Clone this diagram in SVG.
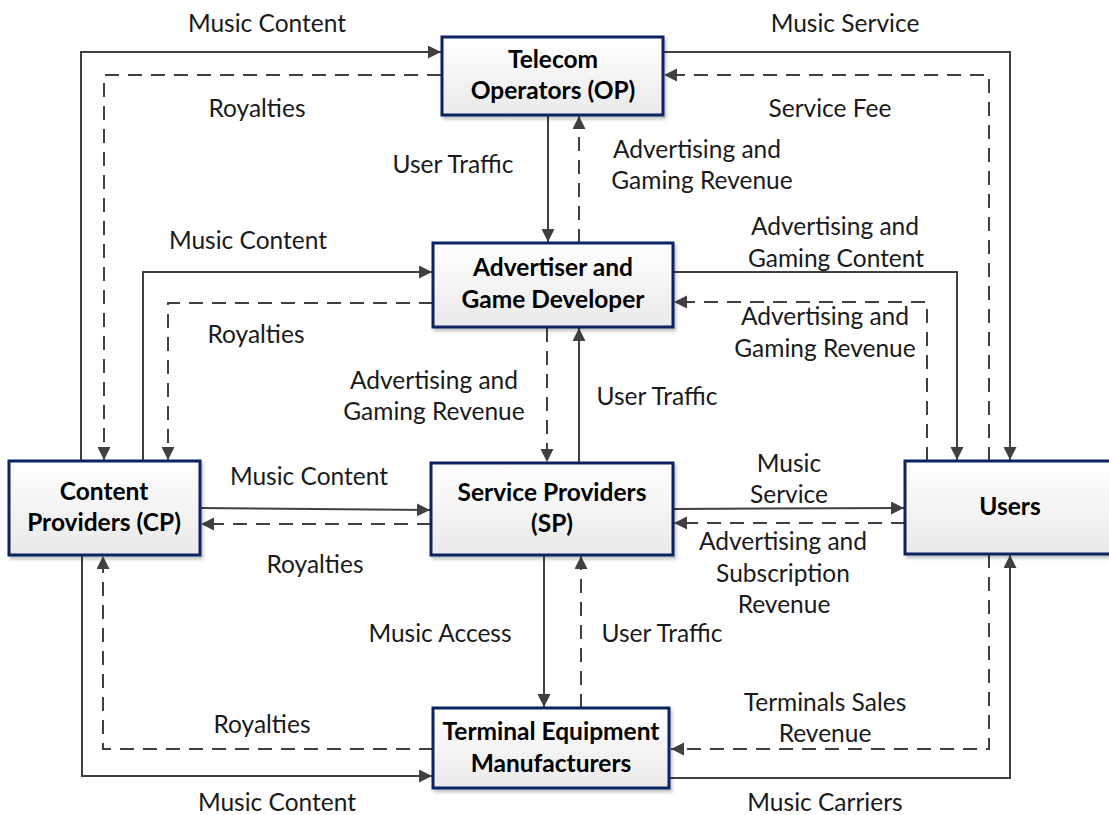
<svg xmlns="http://www.w3.org/2000/svg" width="1109" height="815" viewBox="0 0 1109 815">
<style>
.box{fill:url(#g);stroke:#0c2461;stroke-width:3;filter:url(#sh)}
.bt{font-family:Lato,"Liberation Sans",sans-serif;font-weight:bold;font-size:24.5px;fill:#000;text-anchor:middle}
.lb{font-family:Lato,"Liberation Sans",sans-serif;font-size:24.5px;fill:#1a1a1a;text-anchor:middle}
.c{fill:none;stroke:#404040;stroke-width:2;marker-end:url(#ah)}
.d{stroke-dasharray:14 9}
</style>
<defs>
<linearGradient id="g" x1="0" y1="0" x2="0" y2="1">
<stop offset="0" stop-color="#ffffff"/>
<stop offset="1" stop-color="#e9e9e9"/>
</linearGradient>
<filter id="sh" x="-10%" y="-10%" width="130%" height="140%">
<feDropShadow dx="2" dy="3" stdDeviation="1.5" flood-color="#000" flood-opacity="0.22"/>
</filter>
<marker id="ah" markerUnits="userSpaceOnUse" markerWidth="14" markerHeight="14" refX="13" refY="6.5" orient="auto">
<path d="M0,0 L13,6.5 L0,13 z" fill="#404040"/>
</marker>
</defs>
<rect width="1109" height="815" fill="#fff"/>
<g id="connectors">
<path class="c" d="M81,461 V52 H441"/>
<path class="c d" d="M441,75 H104 V460"/>
<path class="c" d="M663,52 H1010 V460"/>
<path class="c d" d="M989,461 V75 H664"/>
<path class="c" d="M548,116 V242"/>
<path class="c d" d="M579,243 V116"/>
<path class="c" d="M143,461 V272 H432"/>
<path class="c d" d="M433,303 H168 V460"/>
<path class="c" d="M673,272 H957 V460"/>
<path class="c d" d="M927,461 V302 H674"/>
<path class="c d" d="M547,328 V462"/>
<path class="c" d="M579,463 V328"/>
<path class="c" d="M200,508 L430,510"/>
<path class="c d" d="M431,524 H201"/>
<path class="c" d="M673,509 L904,508"/>
<path class="c d" d="M905,523 H674"/>
<path class="c" d="M544,555 V707"/>
<path class="c d" d="M581,708 V556"/>
<path class="c d" d="M433,749 H103 V556"/>
<path class="c" d="M82,555 V776 H432"/>
<path class="c d" d="M989,554 V749 H671"/>
<path class="c" d="M670,778 H1010 V555"/>
</g>
<g id="labels">
<text class="lb" x="267" y="32">Music Content</text>
<text class="lb" x="845" y="32">Music Service</text>
<text class="lb" x="257" y="117">Royalties</text>
<text class="lb" x="830" y="117">Service Fee</text>
<text class="lb" x="453" y="173">User Traffic</text>
<text class="lb" x="697" y="158">Advertising and</text>
<text class="lb" x="702" y="189">Gaming Revenue</text>
<text class="lb" x="248" y="249">Music Content</text>
<text class="lb" x="835" y="235">Advertising and</text>
<text class="lb" x="836" y="267">Gaming Content</text>
<text class="lb" x="256" y="343">Royalties</text>
<text class="lb" x="825" y="325">Advertising and</text>
<text class="lb" x="825" y="357">Gaming Revenue</text>
<text class="lb" x="434" y="389">Advertising and</text>
<text class="lb" x="434" y="420">Gaming Revenue</text>
<text class="lb" x="657" y="405">User Traffic</text>
<text class="lb" x="309" y="485">Music Content</text>
<text class="lb" x="789" y="472">Music</text>
<text class="lb" x="789" y="503">Service</text>
<text class="lb" x="315" y="573">Royalties</text>
<text class="lb" x="783" y="550">Advertising and</text>
<text class="lb" x="783" y="582">Subscription</text>
<text class="lb" x="784" y="613">Revenue</text>
<text class="lb" x="440" y="642">Music Access</text>
<text class="lb" x="662" y="642">User Traffic</text>
<text class="lb" x="262" y="733">Royalties</text>
<text class="lb" x="825" y="711">Terminals Sales</text>
<text class="lb" x="825" y="742">Revenue</text>
<text class="lb" x="277" y="811">Music Content</text>
<text class="lb" x="825" y="811">Music Carriers</text>
</g>
<g id="op">
<rect class="box" x="442" y="37" width="221" height="78"/>
<text class="bt" x="553" y="68">Telecom</text>
<text class="bt" x="553" y="99">Operators (OP)</text>
</g>
<g id="agd">
<rect class="box" x="433" y="243" width="240" height="84"/>
<text class="bt" x="553" y="276">Advertiser and</text>
<text class="bt" x="553" y="308">Game Developer</text>
</g>
<g id="cp">
<rect class="box" x="9" y="461" width="191" height="94"/>
<text class="bt" x="104" y="500">Content</text>
<text class="bt" x="104" y="531">Providers (CP)</text>
</g>
<g id="sp">
<rect class="box" x="431" y="463" width="242" height="92"/>
<text class="bt" x="552" y="501">Service Providers</text>
<text class="bt" x="552" y="532">(SP)</text>
</g>
<g id="users">
<rect class="box" x="905" y="461" width="215" height="93"/>
<text class="bt" x="1010" y="515">Users</text>
</g>
<g id="tem">
<rect class="box" x="433" y="708" width="236" height="80"/>
<text class="bt" x="551" y="740">Terminal Equipment</text>
<text class="bt" x="551" y="772">Manufacturers</text>
</g>
</svg>
